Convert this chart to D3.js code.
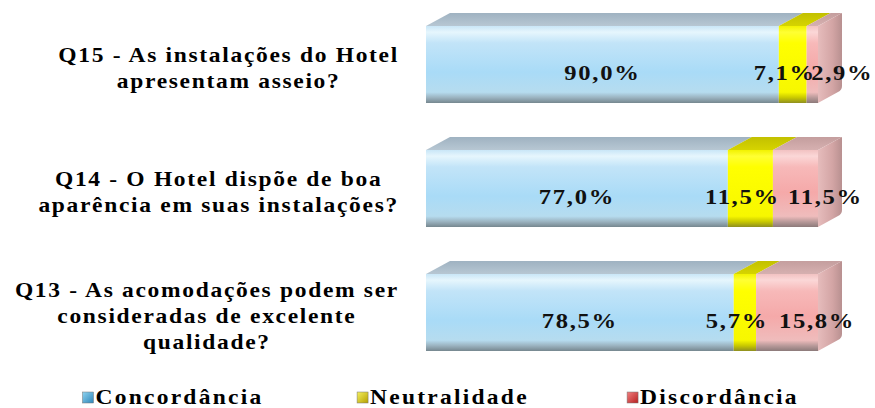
<!DOCTYPE html>
<html>
<head>
<meta charset="utf-8">
<script src="https://cdn.jsdelivr.net/npm/d3@7"></script>
<style>
  body { margin: 0; background: #fff; }
  text { font-family: "Liberation Serif", "Times New Roman", serif; font-weight: bold; fill: #000; }
</style>
</head>
<body>
<div id="chart"></div>
<script>
var width = 875, height = 408;

// data
var questions = ["Q15", "Q14", "Q13"];
var questionLines = [
  ["Q15 - As instalações do Hotel", "apresentam asseio?"],
  ["Q14 - O Hotel dispõe de boa", "aparência em suas instalações?"],
  ["Q13 - As acomodações podem ser", "consideradas de excelente", "qualidade?"]
];
var series = ["Concordância", "Neutralidade", "Discordância"];
var concordancia = [90.0, 77.0, 78.5];
var neutralidade = [7.1, 11.5, 5.7];
var discordancia = [2.9, 11.5, 15.8];

var rows = questions.map(function(q, i) {
  return {q: q, lines: questionLines[i], values: [concordancia[i], neutralidade[i], discordancia[i]]};
});

var depth = {x: 24, y: 13};
var stretch = 1.12; // the original text is drawn a bit wide
var labelRight = 399; // question blocks end here

var svg = d3.select('#chart')
  .append('svg')
  .attr('width', width)
  .attr('height', height);

var x = d3.scaleLinear()
  .domain([0, 100])
  .range([426, 818]);

var y = d3.scaleBand()
  .domain(questions)
  .range([26, 351])
  .paddingInner(0.379);

var fmt = function(v) { return d3.format(".1f")(v).replace(".", ",") + "%"; };

// gradients for the fake 3d look
var defs = svg.append("defs");
var palettes = [
  {front: [["0%", "#c9e6f7"], ["8%", "#e6f6fd"], ["22%", "#c2e4f8"], ["60%", "#a9dbf7"], ["86%", "#b6dcef"], ["93%", "#9bb3c0"], ["100%", "#76878f"]],
   top: [["0%", "#9fb2c1"], ["100%", "#b7c7d3"]], legend: ["#8fd3f0", "#2f86b8"]},
  {front: [["0%", "#f2f200"], ["8%", "#ffff33"], ["22%", "#ffff00"], ["86%", "#f7f700"], ["93%", "#c9c900"], ["100%", "#8f8f20"]],
   top: [["0%", "#c2c000"], ["100%", "#d6d400"]], legend: ["#f5f060", "#b5a000"]},
  {front: [["0%", "#f2c2c2"], ["8%", "#fbd7d7"], ["22%", "#f7b9b9"], ["55%", "#f5a9a9"], ["86%", "#efbcbc"], ["93%", "#b99a9a"], ["100%", "#8c7a7a"]],
   top: [["0%", "#c49e9e"], ["100%", "#d6b0b0"]], legend: ["#f08080", "#b82020"]}
];

palettes.forEach(function(p, i) {
  var g = defs.append("linearGradient").attr("id", "front" + i)
    .attr("x1", 0).attr("y1", 0).attr("x2", 0).attr("y2", 1);
  p.front.forEach(function(s) { g.append("stop").attr("offset", s[0]).attr("stop-color", s[1]); });
  var t = defs.append("linearGradient").attr("id", "top" + i)
    .attr("x1", 0).attr("y1", 0).attr("x2", 0).attr("y2", 1);
  p.top.forEach(function(s) { t.append("stop").attr("offset", s[0]).attr("stop-color", s[1]); });
  var l = defs.append("linearGradient").attr("id", "leg" + i)
    .attr("x1", 0).attr("y1", 0).attr("x2", 1).attr("y2", 1);
  l.append("stop").attr("offset", "0%").attr("stop-color", p.legend[0]);
  l.append("stop").attr("offset", "100%").attr("stop-color", p.legend[1]);
});
var side = defs.append("linearGradient").attr("id", "side")
  .attr("x1", 0).attr("y1", 0).attr("x2", 1).attr("y2", 0);
side.append("stop").attr("offset", "0%").attr("stop-color", "#e6bcbc");
side.append("stop").attr("offset", "60%").attr("stop-color", "#d3a5a5");
side.append("stop").attr("offset", "100%").attr("stop-color", "#b89090");

// stack the segments
var segs = [];
rows.forEach(function(r) {
  var acc = 0;
  r.values.forEach(function(v, j) {
    segs.push({q: r.q, j: j, v: v, x0: acc, x1: acc + v, last: j == r.values.length - 1});
    acc += v;
  });
});

var bars = svg.append("g").attr("class", "bars");

// top faces
bars.selectAll(".top")
  .data(segs)
  .enter().append("path")
    .attr("class", "top")
    .attr("fill", function(d) { return "url(#top" + d.j + ")"; })
    .attr("d", function(d) {
      var a = x(d.x0), b = x(d.x1), t = y(d.q);
      return "M" + a + "," + t + "L" + (a + depth.x) + "," + (t - depth.y) +
             "L" + (b + depth.x) + "," + (t - depth.y) + "L" + b + "," + t + "Z";
    });

// right side face
bars.selectAll(".side")
  .data(segs.filter(function(d) { return d.last; }))
  .enter().append("path")
    .attr("class", "side")
    .attr("fill", "url(#side)")
    .attr("d", function(d) {
      var b = x(d.x1), t = y(d.q), h = y.bandwidth();
      return "M" + b + "," + t + "L" + (b + depth.x) + "," + (t - depth.y) +
             "L" + (b + depth.x) + "," + (t + h - depth.y - 4) + "Q" + (b + depth.x) + "," + (t + h - depth.y) +
             " " + (b + depth.x - 4) + "," + (t + h - depth.y + 2) +
             "L" + b + "," + (t + h) + "Z";
    });

// front faces
bars.selectAll(".front")
  .data(segs)
  .enter().append("rect")
    .attr("class", "front")
    .attr("x", function(d) { return x(d.x0); })
    .attr("y", function(d) { return y(d.q); })
    .attr("width", function(d) { return x(d.x1) - x(d.x0); })
    .attr("height", y.bandwidth())
    .attr("fill", function(d) { return "url(#front" + d.j + ")"; });

// value labels
var labelShift = [0, -8, 30];
svg.append("g").attr("class", "values")
  .selectAll("text")
  .data(segs)
  .enter().append("text")
    .attr("transform", function(d) {
      var cx = (x(d.x0) + x(d.x1)) / 2 + labelShift[d.j];
      var cy = y(d.q) + y.bandwidth() / 2 + 8;
      return "translate(" + cx + "," + cy + ") scale(" + stretch + ",1)";
    })
    .attr("dy", "0.35em")
    .attr("text-anchor", "middle")
    .style("font-size", "22px")
    .style("letter-spacing", "1.5px")
    .style("fill", "#111")
    .text(function(d) { return fmt(d.v); });

// question labels: each block ends at labelRight, its lines centred in it
var lineH = 26;
var qlab = svg.append("g").attr("class", "questions")
  .selectAll("text")
  .data(rows)
  .enter().append("text")
    .attr("text-anchor", "middle")
    .style("font-size", "21px")
    .style("letter-spacing", "1.5px");
qlab.selectAll("tspan")
  .data(function(r) {
    var c = y(r.q) + y.bandwidth() / 2 + 3;
    var start = c - (r.lines.length - 1) * lineH / 2;
    return r.lines.map(function(l, k) { return {t: l, y: start + k * lineH}; });
  })
  .enter().append("tspan")
    .attr("x", 0)
    .attr("y", function(d) { return d.y; })
    .attr("dy", "0.35em")
    .text(function(d) { return d.t; });
qlab.each(function() {
  var maxW = d3.max(d3.select(this).selectAll("tspan").nodes(), function(n) {
    return n.getComputedTextLength() * stretch;
  });
  d3.select(this).attr("transform", "translate(" + (labelRight - maxW / 2) + ",0) scale(" + stretch + ",1)");
});

// legend
var lx = d3.scalePoint().domain(series).range([173, 713]);
var leg = svg.append("g").attr("class", "legend")
  .selectAll("g")
  .data(series)
  .enter().append("g");
leg.each(function(s, i) {
  var g = d3.select(this);
  var t = g.append("text")
    .attr("dy", "0.35em")
    .style("font-size", "21px")
    .style("letter-spacing", "2px")
    .text(s);
  var w = t.node().getComputedTextLength() * stretch;
  var total = 13 + w;
  var left = lx(s) - total / 2;
  g.insert("rect", "text")
    .attr("x", left)
    .attr("y", 392)
    .attr("width", 11)
    .attr("height", 11)
    .attr("fill", "url(#leg" + i + ")")
    .attr("stroke", "#777")
    .attr("stroke-width", 0.5);
  t.attr("transform", "translate(" + (left + 13) + ",397) scale(" + stretch + ",1)");
});
</script>
</body>
</html>
